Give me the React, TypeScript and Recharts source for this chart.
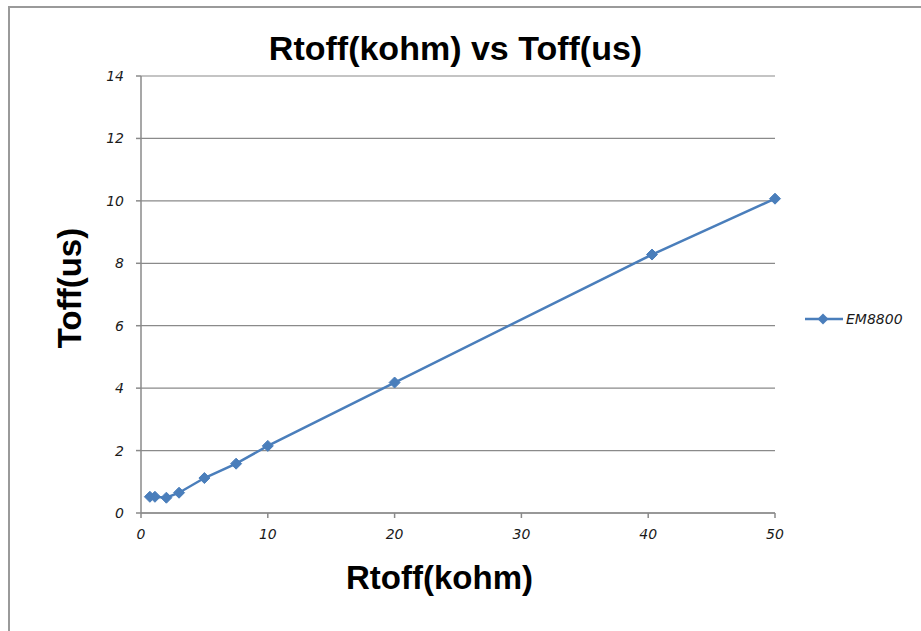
import React from "react";
import { LineChart, Line, XAxis, YAxis, CartesianGrid } from "recharts";

const rtoff = [0.7, 1.1, 2, 3, 5, 7.5, 10, 20, 40.3, 50];
const toff = [0.52, 0.52, 0.49, 0.65, 1.12, 1.58, 2.15, 4.18, 8.28, 10.07];
const xTicks = [0, 10, 20, 30, 40, 50];
const yTicks = [0, 2, 4, 6, 8, 10, 12, 14];
const seriesName = "EM8800";

const data = rtoff.map((r, i) => ({ r, t: toff[i] }));

const BLUE = "#4a7ebb";
const AXIS = "#8a8a8a";
const tickStyle = {
  fontSize: 14,
  fontStyle: "italic" as const,
  fill: "#1a1a1a",
  fontFamily: "DejaVu Sans",
};

// Excel-style diamond marker
const Diamond = (props: any) => {
  const { cx, cy } = props;
  if (cx == null || cy == null) return null;
  const s = 5.5;
  return (
    <polygon
      key={`d-${cx}-${cy}`}
      points={`${cx},${cy - s} ${cx + s},${cy} ${cx},${cy + s} ${cx - s},${cy}`}
      fill={BLUE}
      stroke={BLUE}
    />
  );
};

const titleFont = {
  position: "absolute" as const,
  fontFamily: "Liberation Sans, Arial, sans-serif",
  fontWeight: 700,
  lineHeight: 1,
  color: "#000",
  whiteSpace: "nowrap" as const,
};

export default function App() {
  return (
    <div
      style={{
        position: "absolute",
        left: 0,
        top: 0,
        width: 921,
        height: 631,
        background: "#fff",
        overflow: "hidden",
      }}
    >
      {/* chart frame edge */}
      <div
        style={{
          position: "absolute",
          left: 8,
          top: 6,
          width: 940,
          height: 660,
          borderLeft: "2px solid #9a9a9a",
          borderTop: "2px solid #9a9a9a",
        }}
      />
      <LineChart
        width={921}
        height={631}
        data={data}
        margin={{ top: 76, right: 146, bottom: 88, left: 101 }}
        style={{ position: "absolute", left: 0, top: 0 }}
      >
        <CartesianGrid vertical={false} stroke={AXIS} strokeWidth={1.2} />
        <XAxis
          dataKey="r"
          type="number"
          domain={[0, 50]}
          ticks={xTicks}
          tick={tickStyle}
          tickSize={5}
          tickMargin={11}
          stroke={AXIS}
          strokeWidth={1.5}
          height={30}
        />
        <YAxis
          type="number"
          domain={[0, 14]}
          ticks={yTicks}
          tick={tickStyle}
          tickSize={5}
          tickMargin={12}
          stroke={AXIS}
          strokeWidth={1.5}
          width={40}
        />
        <Line
          type="linear"
          dataKey="t"
          name={seriesName}
          stroke={BLUE}
          strokeWidth={2.5}
          dot={<Diamond />}
          activeDot={false}
          isAnimationActive={false}
        />
      </LineChart>
      {/* legend */}
      <div
        style={{
          position: "absolute",
          left: 805,
          top: 311,
          display: "flex",
          alignItems: "center",
        }}
      >
        <svg width={40} height={14}>
          <line x1={0} y1={7} x2={38} y2={7} stroke={BLUE} strokeWidth={2.5} />
          <polygon points="18,1.5 23.5,7 18,12.5 12.5,7" fill={BLUE} />
        </svg>
        <span
          style={{
            fontFamily: "DejaVu Sans",
            fontStyle: "italic",
            fontSize: 14,
            color: "#1a1a1a",
            marginLeft: 1,
          }}
        >
          {seriesName}
        </span>
      </div>
      <div style={{ ...titleFont, fontSize: 34, left: 0, width: 911, top: 31, textAlign: "center" }}>
        Rtoff(kohm) vs Toff(us)
      </div>
      <div style={{ ...titleFont, fontSize: 33, left: 0, width: 879, top: 561, textAlign: "center" }}>
        Rtoff(kohm)
      </div>
      <div
        style={{
          ...titleFont,
          fontSize: 33,
          left: 69,
          top: 288,
          transform: "translate(-50%, -50%) rotate(-90deg)",
        }}
      >
        Toff(us)
      </div>
    </div>
  );
}
